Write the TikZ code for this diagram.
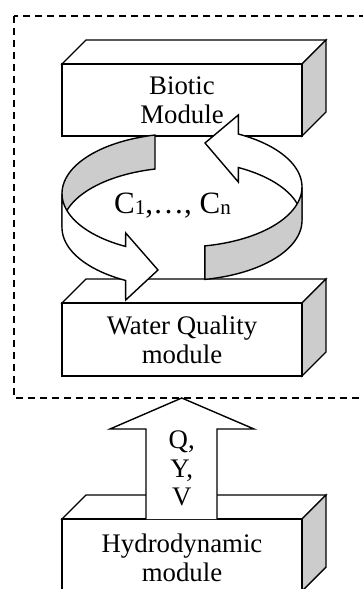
\documentclass[tikz,border=0pt]{standalone}
\usepackage{fontspec}
\setmainfont{Liberation Serif}
\definecolor{shade}{RGB}{204,204,204}
\newcommand\cuboid[4]{%
  \filldraw[face] (#1,#2) -- ++(24,-24) -- ({#3+24},{#2-24}) -- (#3,#2) -- cycle;
  \filldraw[side] (#3,#2) -- ++(24,-24) -- ({#3+24},{#4-24}) -- (#3,#4) -- cycle;
  \filldraw[face] (#1,#2) rectangle (#3,#4);}
\begin{document}
\begin{tikzpicture}[x=1pt,y=-1pt,
  edge/.style={line width=1.4pt, line join=miter},
  face/.style={edge, fill=white},
  side/.style={edge, fill=shade},
  lbl/.style={font=\fontsize{26.8}{29}\selectfont, align=center, inner sep=0pt}]
\useasboundingbox (0,0) rectangle (363,589);
\clip (0,0) rectangle (363,589);
% dashed frame
\draw[line width=1.2pt, dash pattern=on 7pt off 5pt] (14,16) rectangle (372,398);
% boxes
\cuboid{62}{64}{302}{136}
\cuboid{62}{303}{302}{376}
\cuboid{62}{519}{302}{591}
\node[lbl] (bio) at (182,100) {Biotic\\Module};
\node[lbl] (wq) at (182,339.6) {Water Quality\\module};
\node[lbl] (hyd) at (182,557.6) {Hydrodynamic\\module};
% block arrow
\fill[white] (146,519) -- (146,429) -- (110,429) -- (181.75,398) -- (254,429) -- (217,429) -- (217,519) -- cycle;
\draw[edge] (146,519) -- (146,429) -- (110,429) -- (181.75,398) -- (254,429) -- (217,429) -- (217,519);
\node[lbl, font=\fontsize{26.8}{28.5}\selectfont] (flow) at (181.75,468.5) {Q,\\Y,\\V};
% left circular arrow: back (inside, shaded)
\filldraw[side] plot[domain=257:180, samples=40] ({182+120*cos(\x)},{193.5+60*sin(\x)})
  -- plot[domain=180:257, samples=40] ({182+120*cos(\x)},{227.5+60*sin(\x)}) -- cycle;
% left circular arrow: front with head
\filldraw[face] plot[domain=180:118, samples=40] ({182+120*cos(\x)},{193.5+60*sin(\x)})
  -- (125.7,233) -- (158,270) -- (125.7,300)
  -- plot[domain=118:180, samples=40] ({182+120*cos(\x)},{227.5+60*sin(\x)}) -- cycle;
% right circular arrow: back with head
\filldraw[face] plot[domain=360:298, samples=40] ({182+120*cos(\x)},{187+60*sin(\x)})
  -- (238.3,115) -- (205,143) -- (238.3,182)
  -- plot[domain=298:360, samples=40] ({182+120*cos(\x)},{220.5+60*sin(\x)}) -- cycle;
% right circular arrow: front (shaded)
\filldraw[side] plot[domain=79:0, samples=40] ({182+120*cos(\x)},{187+60*sin(\x)})
  -- plot[domain=0:79, samples=40] ({182+120*cos(\x)},{220.5+60*sin(\x)}) -- cycle;
\node[font=\fontsize{31}{36}\selectfont, inner sep=0pt, anchor=base] (cs) at (172.5,213.3)
  {C\raisebox{-1.5pt}{\fontsize{21}{21}\selectfont 1},…, C\raisebox{-1.5pt}{\fontsize{21}{21}\selectfont n}};
\end{tikzpicture}
\end{document}
